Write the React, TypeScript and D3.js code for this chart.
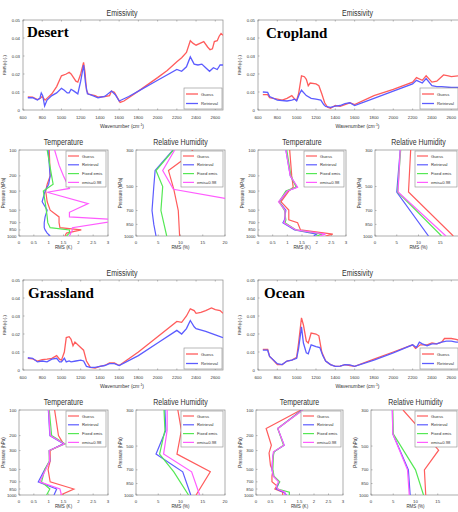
import React from 'react';
import * as d3 from 'd3';

type Pt = [number, number];

// ---------------- Emissivity RMS data: [wavenumber, RMS] ----------------
const desertEmisGuess: Pt[] = [[650,0.0073],[700,0.0072],[750,0.0058],[780,0.0065],[800,0.0075],[830,0.0055],[860,0.007],[900,0.009],[950,0.013],[1000,0.019],[1050,0.020],[1080,0.021],[1100,0.020],[1150,0.016],[1170,0.0155],[1200,0.020],[1230,0.0265],[1245,0.021],[1260,0.011],[1280,0.0088],[1350,0.008],[1380,0.0072],[1450,0.0075],[1500,0.008],[1520,0.0105],[1550,0.0098],[1580,0.007],[1610,0.0042],[1650,0.005],[1800,0.0105],[2000,0.018],[2100,0.022],[2200,0.0268],[2250,0.029],[2300,0.032],[2340,0.0385],[2370,0.037],[2400,0.036],[2440,0.037],[2480,0.038],[2520,0.035],[2545,0.0335],[2570,0.034],[2590,0.038],[2620,0.0385],[2640,0.041],[2660,0.0425],[2680,0.0415]];
const desertEmisRetr: Pt[] = [[650,0.0068],[700,0.0068],[750,0.0055],[775,0.0065],[790,0.0095],[805,0.008],[825,0.0022],[850,0.0055],[900,0.008],[950,0.0095],[1000,0.012],[1030,0.011],[1060,0.0095],[1080,0.0095],[1100,0.0115],[1130,0.0105],[1170,0.009],[1200,0.016],[1230,0.025],[1250,0.015],[1270,0.009],[1300,0.0085],[1380,0.0068],[1450,0.0075],[1520,0.0105],[1560,0.0085],[1600,0.005],[1700,0.0075],[1800,0.0105],[2000,0.0165],[2200,0.0225],[2250,0.0215],[2300,0.024],[2340,0.0295],[2380,0.0255],[2420,0.025],[2460,0.0255],[2500,0.0235],[2540,0.0215],[2580,0.0235],[2620,0.0225],[2650,0.025],[2680,0.025]];

const croplandEmisGuess: Pt[] = [[650,0.0085],[700,0.0085],[720,0.0068],[800,0.006],[850,0.0055],[900,0.0065],[950,0.008],[980,0.006],[1000,0.0055],[1020,0.009],[1050,0.019],[1080,0.0185],[1100,0.017],[1120,0.0135],[1140,0.015],[1200,0.0145],[1230,0.0135],[1260,0.009],[1290,0.004],[1320,0.0015],[1350,0.001],[1400,0.0025],[1450,0.002],[1500,0.003],[1550,0.004],[1600,0.003],[1800,0.008],[2000,0.0115],[2200,0.0155],[2240,0.018],[2300,0.0165],[2340,0.019],[2400,0.0155],[2450,0.016],[2520,0.0195],[2570,0.019],[2600,0.0185],[2680,0.019]];
const croplandEmisRetr: Pt[] = [[650,0.01],[700,0.0098],[720,0.0075],[800,0.0055],[900,0.005],[950,0.0055],[980,0.006],[1000,0.005],[1030,0.009],[1050,0.011],[1100,0.008],[1150,0.0065],[1200,0.006],[1250,0.0055],[1280,0.003],[1300,0.002],[1350,0.0015],[1400,0.0022],[1450,0.0025],[1500,0.0035],[1550,0.004],[1600,0.0025],[1800,0.0065],[2000,0.0105],[2200,0.0145],[2240,0.0165],[2300,0.015],[2340,0.0175],[2400,0.0135],[2450,0.013],[2500,0.013],[2600,0.0125],[2680,0.0125]];

const grassEmisGuess: Pt[] = [[650,0.0065],[700,0.0062],[750,0.005],[800,0.0058],[850,0.006],[900,0.0065],[950,0.008],[980,0.006],[1000,0.0055],[1030,0.01],[1050,0.018],[1080,0.0185],[1100,0.017],[1120,0.0135],[1140,0.0155],[1200,0.0125],[1230,0.011],[1260,0.005],[1300,0.0015],[1350,0.001],[1400,0.002],[1450,0.0025],[1500,0.004],[1550,0.004],[1600,0.0025],[1800,0.01],[2000,0.0185],[2200,0.027],[2250,0.0265],[2300,0.03],[2340,0.034],[2380,0.033],[2400,0.0315],[2450,0.032],[2500,0.033],[2560,0.0345],[2600,0.0335],[2650,0.033],[2680,0.0315]];
const grassEmisRetr: Pt[] = [[650,0.0068],[700,0.0065],[750,0.0045],[800,0.005],[850,0.0045],[900,0.006],[950,0.0065],[980,0.0045],[1000,0.0045],[1030,0.0065],[1050,0.0045],[1080,0.005],[1100,0.0045],[1150,0.005],[1200,0.0055],[1230,0.005],[1260,0.002],[1300,0.0015],[1350,0.0015],[1400,0.002],[1450,0.0025],[1500,0.0035],[1550,0.0035],[1600,0.0025],[1800,0.008],[2000,0.015],[2200,0.022],[2250,0.02],[2300,0.023],[2340,0.0275],[2380,0.024],[2400,0.023],[2500,0.0215],[2600,0.0195],[2680,0.018]];

const oceanEmisGuess: Pt[] = [[650,0.0115],[700,0.0115],[720,0.0075],[750,0.006],[800,0.003],[850,0.003],[900,0.005],[950,0.0055],[1000,0.007],[1020,0.015],[1050,0.029],[1070,0.025],[1100,0.016],[1120,0.015],[1150,0.0205],[1200,0.02],[1230,0.019],[1260,0.01],[1300,0.005],[1350,0.003],[1400,0.002],[1450,0.0022],[1500,0.003],[1550,0.0025],[1600,0.002],[1800,0.006],[2000,0.01],[2200,0.014],[2230,0.012],[2280,0.014],[2350,0.014],[2400,0.015],[2450,0.0145],[2500,0.0155],[2530,0.0175],[2600,0.0175],[2650,0.017],[2680,0.0165]];
const oceanEmisRetr: Pt[] = [[650,0.011],[700,0.011],[720,0.0075],[800,0.0035],[850,0.003],[900,0.005],[950,0.0055],[1000,0.0065],[1020,0.012],[1050,0.024],[1070,0.015],[1100,0.0095],[1120,0.009],[1150,0.014],[1200,0.013],[1240,0.0125],[1270,0.008],[1300,0.005],[1350,0.003],[1400,0.002],[1450,0.0022],[1500,0.003],[1550,0.0028],[1600,0.002],[1800,0.0055],[2000,0.0095],[2200,0.014],[2240,0.0125],[2270,0.0155],[2300,0.0145],[2350,0.0135],[2400,0.0145],[2450,0.0145],[2500,0.0155],[2550,0.016],[2600,0.016],[2650,0.0155],[2680,0.0155]];

// ---------------- Temperature RMS profiles: [pressure hPa, RMS K] ----------------
const desertTGuess: Pt[] = [[100,1.02],[200,1.05],[250,0.95],[300,0.9],[400,0.95],[500,1.05],[600,1.35],[700,1.35],[800,1.38],[850,2.1],[925,1.6],[1000,1.55]];
const desertTRetr: Pt[] = [[100,0.98],[200,1.05],[250,1.0],[300,0.88],[400,0.78],[500,0.95],[600,0.88],[700,0.85],[800,0.85],[850,0.88],[925,0.95],[1000,1.05]];
const desertTFixed: Pt[] = [[100,0.95],[200,1.1],[250,1.15],[300,0.82],[400,0.88],[500,0.92],[600,0.95],[700,0.97],[800,1.05],[850,1.7],[925,1.7],[1000,1.6]];
const desertTE98: Pt[] = [[100,1.2],[150,1.35],[200,1.5],[280,1.7],[310,0.95],[420,2.33],[530,1.7],[600,1.7],[650,3.5],[800,1.8],[850,1.8],[1000,1.7]];

const croplandTGuess: Pt[] = [[100,1.08],[200,1.15],[270,1.2],[300,1.05],[400,0.78],[500,1.05],[650,1.05],[700,1.35],[850,1.45],[950,2.55],[1000,2.3]];
const croplandTRetr: Pt[] = [[100,0.95],[200,1.1],[270,1.33],[300,1.0],[400,0.72],[500,0.95],[650,0.9],[700,0.85],[850,1.25],[950,2.0],[1000,1.9]];
const croplandTFixed: Pt[] = [[100,0.98],[200,1.12],[270,1.3],[300,0.95],[400,0.72],[500,0.9],[650,0.95],[700,0.92],[850,1.3],[950,2.2],[1000,2.0]];
const croplandTE98: Pt[] = [[100,0.95],[200,1.1],[270,1.35],[300,1.0],[400,0.7],[500,0.92],[650,0.92],[700,0.88],[850,1.3],[950,2.3],[1000,2.1]];

const grassTGuess: Pt[] = [[100,1.2],[200,1.33],[250,1.5],[300,1.05],[400,1.05],[500,0.98],[700,1.05],[850,1.85],[1000,1.4]];
const grassTRetr: Pt[] = [[100,0.99],[200,1.04],[250,1.5],[300,1.02],[400,1.04],[500,0.87],[700,0.65],[850,1.27],[1000,1.18]];
const grassTFixed: Pt[] = [[100,1.02],[200,1.1],[250,1.55],[300,1.02],[400,1.02],[500,0.87],[700,0.76],[850,1.04],[1000,0.93]];
const grassTE98: Pt[] = [[100,1.0],[200,1.05],[250,1.53],[300,1.02],[400,1.03],[500,0.9],[700,0.7],[850,1.38],[1000,1.43]];

const oceanTGuess: Pt[] = [[100,1.55],[165,0.35],[260,0.53],[320,0.45],[450,0.5],[520,0.58],[600,0.55],[700,0.55],[780,0.72],[850,0.65],[925,0.92],[1000,0.92]];
const oceanTRetr: Pt[] = [[100,1.58],[165,0.75],[260,0.97],[310,0.62],[350,0.58],[500,0.55],[600,0.6],[700,0.8],[780,0.75],[850,0.7],[925,0.95],[1000,1.05]];
const oceanTFixed: Pt[] = [[100,1.6],[165,0.75],[260,0.95],[310,0.62],[350,0.6],[500,0.58],[600,0.62],[700,0.82],[780,0.72],[850,0.75],[925,1.15],[1000,1.15]];
const oceanTE98: Pt[] = [[100,1.62],[165,0.75],[260,0.97],[310,0.6],[350,0.58],[500,0.55],[600,0.6],[700,0.78],[780,0.7],[850,0.75],[925,1.0],[1000,1.0]];

// ---------------- Relative humidity RMS profiles: [pressure hPa, RMS %] ----------------
const desertRHGuess: Pt[] = [[300,12.8],[350,10.2],[400,7.3],[520,8.5],[700,9.5],[1000,9.8]];
const desertRHRetr: Pt[] = [[300,8.3],[400,4.3],[500,4.0],[700,3.6],[850,4.0],[1000,4.5]];
const desertRHFixed: Pt[] = [[300,8.4],[400,4.5],[500,6.0],[700,5.6],[1000,6.9]];
const desertRHE98: Pt[] = [[300,8.7],[400,6.0],[520,8.4],[590,20],[700,30],[1000,30]];

const croplandRHGuess: Pt[] = [[300,8.2],[540,7.7],[1000,18]];
const croplandRHRetr: Pt[] = [[300,5.8],[540,5.0],[1000,12.3]];
const croplandRHFixed: Pt[] = [[300,5.9],[540,5.2],[1000,15.3]];
const croplandRHE98: Pt[] = [[300,5.8],[540,5.3],[1000,16.3]];

const grassRHGuess: Pt[] = [[300,9.4],[400,10.2],[560,9.2],[720,16.7],[1000,13.5]];
const grassRHRetr: Pt[] = [[300,6.5],[400,6.7],[560,4.5],[720,10.5],[1000,12.3]];
const grassRHFixed: Pt[] = [[300,6.3],[400,6.5],[560,5.3],[720,8.5],[1000,11.8]];
const grassRHE98: Pt[] = [[300,7.0],[400,7.0],[560,6.2],[720,12.5],[1000,14.3]];

const oceanRHGuess: Pt[] = [[300,7.2],[530,15.2],[700,12],[1000,12.3]];
const oceanRHRetr: Pt[] = [[300,4.8],[420,4.9],[700,8.4],[1000,8.8]];
const oceanRHFixed: Pt[] = [[300,4.9],[420,5.0],[700,10.0],[1000,11.8]];
const oceanRHE98: Pt[] = [[300,4.8],[420,4.9],[700,8.2],[1000,8.6]];

// ---------------- ticks / labels ----------------
const emisXTicks = [600, 800, 1000, 1200, 1400, 1600, 1800, 2000, 2200, 2400, 2600];
const emisYTicks = [0, 0.01, 0.02, 0.03, 0.04, 0.05];
const tXTicks = [0, 0.5, 1, 1.5, 2, 2.5, 3];
const rhXTicks = [0, 5, 10, 15, 20];
const tPTicks = [100, 200, 300, 500, 700, 850, 1000];
const rhPTicks = [300, 500, 700, 850, 1000];
const seriesNames = ['Guess', 'Retrieval', 'Fixed emis', 'emis=0.98'];

const COL = ['#ff5c5c', '#5c5cff', '#55e855', '#ff5cff'];
const AX = '#8a8a8a';
const TXT = '#333';
const SANS = 'Liberation Sans, Arial, sans-serif';
const W = 458;

interface Rect { left: number; right: number; top: number; bottom: number }

let clipId = 0;

function Title({ cx, y, text }: { cx: number; y: number; text: string }) {
  return (
    <text transform={`translate(${cx},${y}) scale(1,1.3)`} fontSize={7} textAnchor="middle" fill={TXT} fontFamily={SANS}>{text}</text>
  );
}

function EmisPanel({ r, guess, retr, name, nameX, nameY }: { r: Rect; guess: Pt[]; retr: Pt[]; name: string; nameX: number; nameY: number }) {
  const x = d3.scaleLinear().domain([600, 2680]).range([r.left, r.right]);
  const y = d3.scaleLinear().domain([0, 0.05]).range([r.bottom, r.top]);
  const line = d3.line<Pt>().x(d => x(d[0])).y(d => y(d[1]));
  const id = 'ce' + (clipId++);
  const lx = r.right - 39, ly = r.bottom - 22;
  return (
    <g>
      <defs><clipPath id={id}><rect x={r.left} y={r.top} width={r.right - r.left} height={r.bottom - r.top} /></clipPath></defs>
      <rect x={r.left} y={r.top} width={r.right - r.left} height={r.bottom - r.top} fill="#fff" stroke={AX} strokeWidth={0.7} />
      {emisXTicks.map(t => (
        <g key={'x' + t}>
          <line x1={x(t)} x2={x(t)} y1={r.bottom} y2={r.bottom - 1.5} stroke={AX} strokeWidth={0.6} />
          <line x1={x(t)} x2={x(t)} y1={r.top} y2={r.top + 1.5} stroke={AX} strokeWidth={0.6} />
          <text x={x(t)} y={r.bottom + 8.5} fontSize={4.3} textAnchor="middle" fill={TXT} fontFamily={SANS}>{t}</text>
        </g>
      ))}
      {emisYTicks.map(t => (
        <g key={'y' + t}>
          <line x1={r.left} x2={r.left + 1.5} y1={y(t)} y2={y(t)} stroke={AX} strokeWidth={0.6} />
          <text x={r.left - 3} y={y(t) + 1.5} fontSize={4.3} textAnchor="end" fill={TXT} fontFamily={SANS}>{t === 0 ? '0' : t.toFixed(2)}</text>
        </g>
      ))}
      <g clipPath={`url(#${id})`}>
        <path d={line(guess) || ''} fill="none" stroke={COL[0]} strokeWidth={1.3} />
        <path d={line(retr) || ''} fill="none" stroke={COL[1]} strokeWidth={1.3} />
      </g>
      <Title cx={(r.left + r.right) / 2 - 1} y={r.top - 4} text="Emissivity" />
      <text x={(r.left + r.right) / 2 - 1} y={r.bottom + 18} fontSize={5} textAnchor="middle" fill={TXT} fontFamily={SANS}>Wavenumber (cm<tspan dy={-2} fontSize={3.5}>-1</tspan><tspan dy={2}>)</tspan></text>
      <text transform={`translate(${r.left - 17},${(r.top + r.bottom) / 2}) rotate(-90)`} fontSize={4.3} textAnchor="middle" fill={TXT} fontFamily={SANS}>RMS(ε) (-)</text>
      <rect x={lx} y={ly} width={38} height={21} fill="#fff" stroke={AX} strokeWidth={0.6} />
      {[0, 1].map(i => (
        <g key={'l' + i}>
          <line x1={lx + 2} x2={lx + 14} y1={ly + 6 + i * 9.5} y2={ly + 6 + i * 9.5} stroke={COL[i]} strokeWidth={1.3} />
          <text x={lx + 17} y={ly + 7.5 + i * 9.5} fontSize={4.3} fill={TXT} fontFamily={SANS}>{seriesNames[i]}</text>
        </g>
      ))}
      <text x={nameX} y={nameY} fontSize={15} fontWeight="bold" fontFamily="Liberation Serif, Times New Roman, serif" fill="#000">{name}</text>
    </g>
  );
}

function ProfilePanel({ r, series, kind }: { r: Rect; series: Pt[][]; kind: 'T' | 'RH' }) {
  const xmax = kind === 'T' ? 3 : 20;
  const ptop = kind === 'T' ? 100 : 300;
  const x = d3.scaleLinear().domain([0, xmax]).range([r.left, r.right]);
  const y = d3.scaleLog().domain([ptop, 1000]).range([r.top, r.bottom]);
  const line = d3.line<Pt>().x(d => x(d[1])).y(d => y(d[0]));
  const xt = (kind === 'T' ? tXTicks : rhXTicks).filter(t => x(t) < W - 4);
  const pt = kind === 'T' ? tPTicks : rhPTicks;
  const id = 'cp' + (clipId++);
  const lw = kind === 'T' ? 40 : 42;
  const lx = Math.min(r.right - lw - 2, W - lw - 1), ly = r.top + 1;
  const title = kind === 'T' ? 'Temperature' : 'Relative Humidity';
  const cx = Math.min((r.left + r.right) / 2, W - 33);
  return (
    <g>
      <defs><clipPath id={id}><rect x={r.left} y={r.top} width={r.right - r.left} height={r.bottom - r.top} /></clipPath></defs>
      <rect x={r.left} y={r.top} width={r.right - r.left} height={r.bottom - r.top} fill="#fff" stroke={AX} strokeWidth={0.7} />
      {xt.map(t => (
        <g key={'x' + t}>
          <line x1={x(t)} x2={x(t)} y1={r.bottom} y2={r.bottom - 1.5} stroke={AX} strokeWidth={0.6} />
          <text x={x(t)} y={r.bottom + 7.5} fontSize={4.3} textAnchor="middle" fill={TXT} fontFamily={SANS}>{String(t)}</text>
        </g>
      ))}
      {pt.map(t => (
        <g key={'y' + t}>
          <line x1={r.left} x2={r.left + 1.5} y1={y(t)} y2={y(t)} stroke={AX} strokeWidth={0.6} />
          <text x={r.left - 2.5} y={y(t) + 1.5} fontSize={4.3} textAnchor="end" fill={TXT} fontFamily={SANS}>{t}</text>
        </g>
      ))}
      <g clipPath={`url(#${id})`}>
        {series.map((s, i) => (
          <path key={i} d={line(s) || ''} fill="none" stroke={COL[i]} strokeWidth={1.2} />
        ))}
      </g>
      <Title cx={cx} y={r.top - 5.5} text={title} />
      <text x={(r.left + r.right) / 2} y={r.bottom + 13} fontSize={4.5} textAnchor="middle" fill={TXT} fontFamily={SANS}>{kind === 'T' ? 'RMS (K)' : 'RMS (%)'}</text>
      <text transform={`translate(${r.left - 14},${(r.top + r.bottom) / 2}) rotate(-90)`} fontSize={4.5} textAnchor="middle" fill={TXT} fontFamily={SANS}>Pressure (hPa)</text>
      <rect x={lx} y={ly} width={lw} height={36} fill="#fff" stroke={AX} strokeWidth={0.6} />
      {seriesNames.map((n, i) => (
        <g key={n}>
          <line x1={lx + 2} x2={lx + 13} y1={ly + 5 + i * 8.8} y2={ly + 5 + i * 8.8} stroke={COL[i]} strokeWidth={1.2} />
          <text x={lx + 16} y={ly + 6.5 + i * 8.8} fontSize={4.2} fill={TXT} fontFamily={SANS}>{n}</text>
        </g>
      ))}
    </g>
  );
}

export default function App() {
  clipId = 0;
  return (
    <svg width={458} height={512} style={{ position: 'absolute', left: 0, top: 0, background: '#fff' }}>
      <rect width={458} height={512} fill="#fff" />
      <EmisPanel r={{ left: 23, right: 223, top: 20, bottom: 110 }} guess={desertEmisGuess} retr={desertEmisRetr} name="Desert" nameX={27} nameY={37} />
      <EmisPanel r={{ left: 258, right: 459, top: 20, bottom: 110 }} guess={croplandEmisGuess} retr={croplandEmisRetr} name="Cropland" nameX={266} nameY={38} />
      <EmisPanel r={{ left: 23, right: 223, top: 280, bottom: 370 }} guess={grassEmisGuess} retr={grassEmisRetr} name="Grassland" nameX={28} nameY={298} />
      <EmisPanel r={{ left: 258, right: 459, top: 280, bottom: 370 }} guess={oceanEmisGuess} retr={oceanEmisRetr} name="Ocean" nameX={264} nameY={298} />

      <ProfilePanel r={{ left: 19, right: 108, top: 150, bottom: 236 }} kind="T" series={[desertTGuess, desertTRetr, desertTFixed, desertTE98]} />
      <ProfilePanel r={{ left: 136, right: 225, top: 150, bottom: 236 }} kind="RH" series={[desertRHGuess, desertRHRetr, desertRHFixed, desertRHE98]} />
      <ProfilePanel r={{ left: 258, right: 346, top: 150, bottom: 236 }} kind="T" series={[croplandTGuess, croplandTRetr, croplandTFixed, croplandTE98]} />
      <ProfilePanel r={{ left: 375, right: 462, top: 150, bottom: 236 }} kind="RH" series={[croplandRHGuess, croplandRHRetr, croplandRHFixed, croplandRHE98]} />

      <ProfilePanel r={{ left: 19, right: 108, top: 410, bottom: 495 }} kind="T" series={[grassTGuess, grassTRetr, grassTFixed, grassTE98]} />
      <ProfilePanel r={{ left: 136, right: 225, top: 410, bottom: 495 }} kind="RH" series={[grassRHGuess, grassRHRetr, grassRHFixed, grassRHE98]} />
      <ProfilePanel r={{ left: 256, right: 343, top: 410, bottom: 495 }} kind="T" series={[oceanTGuess, oceanTRetr, oceanTFixed, oceanTE98]} />
      <ProfilePanel r={{ left: 371, right: 460, top: 410, bottom: 495 }} kind="RH" series={[oceanRHGuess, oceanRHRetr, oceanRHFixed, oceanRHE98]} />
    </svg>
  );
}
